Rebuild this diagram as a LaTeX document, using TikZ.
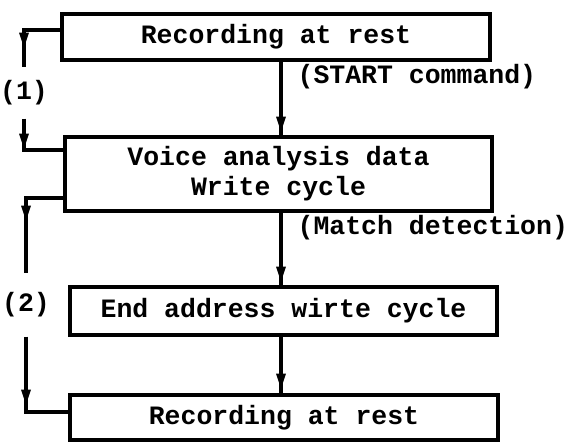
\documentclass[tikz,border=0pt]{standalone}
\usepackage{fontspec}
\setmainfont{Liberation Mono}
\usetikzlibrary{decorations.markings}
\begin{document}
\begin{tikzpicture}[x=1pt,y=-1pt,line width=3.2pt,
  lbl/.style={font=\fontsize{26.5}{30}\selectfont\bfseries},
  box/.style={draw,rectangle,inner sep=0pt,align=center,lbl},
  txt/.style={inner sep=0pt,lbl},
  amark/.style={postaction={decorate},decoration={markings,
    mark=at position #1 with {\fill[line width=0.5pt] (-15pt,-5pt) -- (0pt,0pt) -- (-15pt,5pt) -- cycle;}}}]
\useasboundingbox (0,0) rectangle (570,442);
\node[box,minimum width=428,minimum height=46] (r1) at (276,37) {Recording at rest};
\node[box,minimum width=427,minimum height=74] (r2) at (278.5,174) {Voice analysis data\\Write cycle};
\node[box,minimum width=427,minimum height=48] (r3) at (283.5,311) {End address wirte cycle};
\node[box,minimum width=428,minimum height=45] (r4) at (284,417.5) {Recording at rest};
\node[txt,anchor=west] (c1) at (296,77) {(START command)};
\node[txt,anchor=west] (c2) at (296,228) {(Match detection)};
\node[txt,minimum height=48] (one) at (24,93) {(1)};
\node[txt,minimum height=60] (two) at (26,305) {(2)};
\coordinate (ax) at (281,0);
\coordinate (l1a) at (0,30);
\coordinate (l1b) at (0,150);
\coordinate (l2a) at (0,198);
\coordinate (l2b) at (0,412);
\draw[amark=70pt] (r1.south -| ax) -- (r2.north -| ax);
\draw[amark=69pt] (r2.south -| ax) -- (r3.north -| ax);
\draw[amark=52pt] (r3.south -| ax) -- (r4.north -| ax);
\draw[amark=54pt] (r1.west |- l1a) -| (one.north);
\draw[amark=30pt] (one.south) |- (r2.west |- l1b);
\draw[amark=60pt] (r2.west |- l2a) -| (two.north);
\draw[amark=68pt] (two.south) |- (r4.west |- l2b);
\end{tikzpicture}
\end{document}
